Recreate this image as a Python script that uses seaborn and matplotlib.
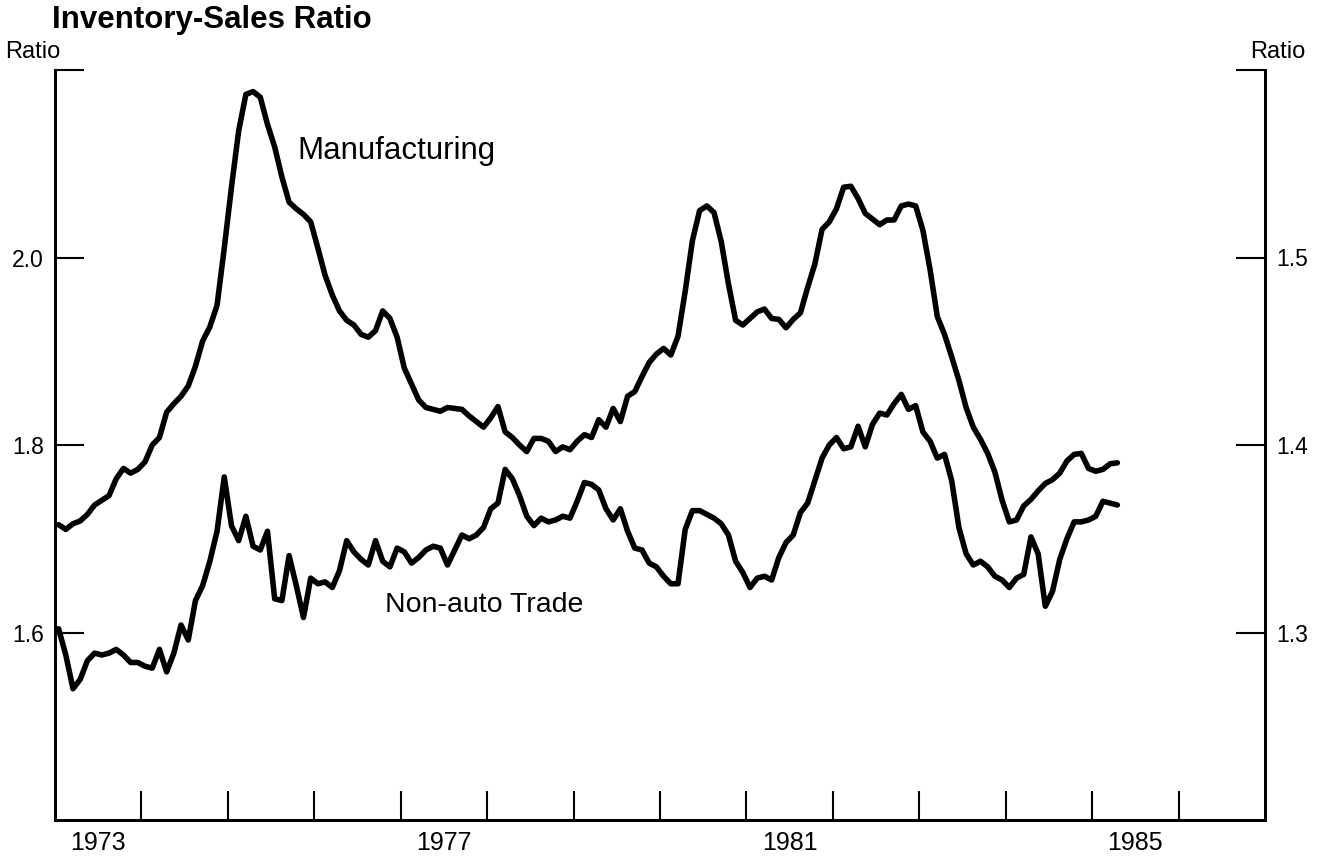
import pandas as pd
import seaborn as sns
import matplotlib.pyplot as plt

# monthly inventory-sales ratios, Jan 1973 - Apr 1985
manufacturing = [
    1.715, 1.710, 1.716, 1.719, 1.726, 1.736, 1.741, 1.746, 1.764, 1.775, 1.770, 1.774,
    1.782, 1.800, 1.808, 1.835, 1.844, 1.852, 1.863, 1.884, 1.911, 1.926, 1.949, 2.010,
    2.075, 2.135, 2.174, 2.177, 2.171, 2.142, 2.118, 2.086, 2.059, 2.052, 2.046, 2.038,
    2.010, 1.981, 1.960, 1.943, 1.933, 1.928, 1.918, 1.915, 1.922, 1.943, 1.935, 1.915,
    1.882, 1.865, 1.848, 1.840, 1.838, 1.836, 1.840, 1.839, 1.838, 1.831, 1.825, 1.819,
    1.829, 1.841, 1.814, 1.808, 1.800, 1.793, 1.807, 1.807, 1.804, 1.793, 1.798, 1.795,
    1.804, 1.811, 1.808, 1.827, 1.819, 1.839, 1.825, 1.852, 1.857, 1.873, 1.888, 1.897,
    1.903, 1.896, 1.916, 1.964, 2.018, 2.050, 2.055, 2.048, 2.017, 1.972, 1.933, 1.928,
    1.935, 1.942, 1.945, 1.935, 1.934, 1.925, 1.934, 1.941, 1.968, 1.993, 2.030, 2.038,
    2.052, 2.075, 2.076, 2.063, 2.047, 2.041, 2.035, 2.040, 2.040, 2.055, 2.057, 2.055,
    2.029, 1.987, 1.937, 1.918, 1.894, 1.869, 1.840, 1.819, 1.806, 1.791, 1.771, 1.741,
    1.718, 1.720, 1.735, 1.742, 1.751, 1.759, 1.763, 1.770, 1.783, 1.790, 1.791, 1.775,
    1.772, 1.774, 1.780, 1.781,
]
non_auto_trade = [
    1.302, 1.288, 1.270, 1.275, 1.285, 1.289, 1.288, 1.289, 1.291, 1.288, 1.284, 1.284,
    1.282, 1.281, 1.291, 1.279, 1.289, 1.304, 1.296, 1.317, 1.325, 1.338, 1.354, 1.383,
    1.357, 1.349, 1.362, 1.346, 1.344, 1.354, 1.318, 1.317, 1.341, 1.325, 1.308, 1.329,
    1.326, 1.327, 1.324, 1.333, 1.349, 1.343, 1.339, 1.336, 1.349, 1.338, 1.335, 1.345,
    1.343, 1.337, 1.340, 1.344, 1.346, 1.345, 1.336, 1.344, 1.352, 1.350, 1.352, 1.356,
    1.366, 1.369, 1.387, 1.382, 1.373, 1.362, 1.357, 1.361, 1.359, 1.360, 1.362, 1.361,
    1.370, 1.380, 1.379, 1.376, 1.366, 1.360, 1.366, 1.354, 1.345, 1.344, 1.337, 1.335,
    1.330, 1.326, 1.326, 1.355, 1.365, 1.365, 1.363, 1.361, 1.358, 1.352, 1.338, 1.332,
    1.324, 1.329, 1.330, 1.328, 1.340, 1.348, 1.352, 1.364, 1.369, 1.381, 1.393, 1.400,
    1.404, 1.398, 1.399, 1.410, 1.399, 1.411, 1.417, 1.416, 1.422, 1.427, 1.419, 1.421,
    1.407, 1.402, 1.393, 1.395, 1.381, 1.356, 1.342, 1.336, 1.338, 1.335, 1.330, 1.328,
    1.324, 1.329, 1.331, 1.351, 1.342, 1.314, 1.322, 1.339, 1.350, 1.359, 1.359, 1.360,
    1.362, 1.370, 1.369, 1.368,
]
year_labels = ['1973', '1977', '1981', '1985']

months = pd.date_range('1973-01-01', periods=len(manufacturing), freq='MS')
df = pd.DataFrame({
    'year': months.year + (months.month - 0.5) / 12,
    'manufacturing': manufacturing,
    'trade': non_auto_trade,
})

sns.set_style('ticks')
plt.rcParams['font.family'] = ['Liberation Sans', 'DejaVu Sans']
for key in ('text.color', 'axes.edgecolor', 'xtick.color', 'ytick.color', 'axes.labelcolor'):
    plt.rcParams[key] = 'black'

fig = plt.figure(figsize=(13.25, 8.57), dpi=100)
ax = fig.add_axes([55 / 1325, 1 - 820 / 857, 1210 / 1325, 750 / 857])
ax2 = ax.twinx()

sns.lineplot(data=df, x='year', y='manufacturing', ax=ax, color='black', lw=4)
sns.lineplot(data=df, x='year', y='trade', ax=ax2, color='black', lw=4)

ax.set_xlim(1973, 1987)
ax.set_ylim(1.4, 2.2)
ax2.set_ylim(1.2, 1.6)
ax.set_xlabel('')
ax.set_ylabel('')
ax2.set_ylabel('')

for a in (ax, ax2):
    a.spines['top'].set_visible(False)
    for s in ('left', 'right', 'bottom'):
        a.spines[s].set_linewidth(2)
        a.spines[s].set_color('black')

ax.set_yticks([1.6, 1.8, 2.0, 2.2], ['1.6', '1.8', '2.0', ''])
ax2.set_yticks([1.3, 1.4, 1.5, 1.6], ['1.3', '1.4', '1.5', ''])
ax.tick_params(axis='y', direction='in', length=21, width=1.5, labelsize=16.5, pad=8)
ax2.tick_params(axis='y', direction='in', length=21, width=1.5, labelsize=16.5, pad=8)

ax.set_xticks(range(1974, 1987), [''] * 13)
ax.set_xticks([int(y) + 0.5 for y in year_labels], year_labels, minor=True)
ax.tick_params(axis='x', which='major', direction='in', length=21, width=1.5)
ax.tick_params(axis='x', which='minor', length=0, labelsize=18, pad=8)

ax.text(1975.8, 2.114, 'Manufacturing', fontsize=22.5, va='center')
ax.text(1976.82, 1.629, 'Non-auto Trade', fontsize=20.5, va='center')

fig.text(52 / 1325, 1 - 20 / 857, 'Inventory-Sales Ratio', fontsize=22.5,
         fontweight='bold', va='center')
fig.text(5 / 1325, 1 - 52 / 857, 'Ratio', fontsize=17, va='center')
fig.text(1305 / 1325, 1 - 52 / 857, 'Ratio', fontsize=17, va='center', ha='right')

fig.savefig('out.png', dpi=100)
